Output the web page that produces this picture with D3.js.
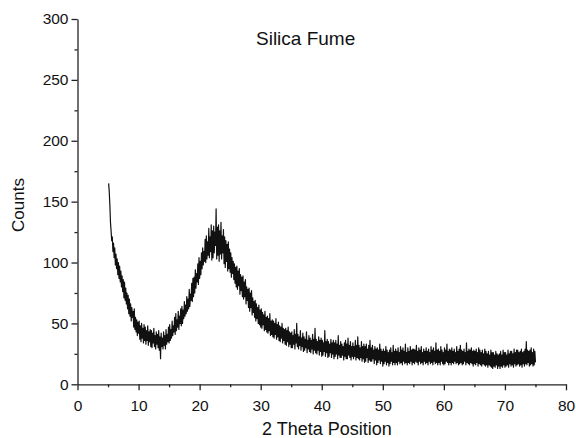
<!DOCTYPE html>
<html>
<head>
<meta charset="utf-8">
<script src="https://cdn.jsdelivr.net/npm/d3@7"></script>
<style>
  html, body { margin: 0; padding: 0; background: #fff; }
  text { font-family: "Liberation Sans", Arial, sans-serif; fill: #111; }
</style>
</head>
<body>
<div id="chart"></div>
<script>
// --- Data ---
// XRD scan, 0.1 deg steps. Each row holds the counts at d+0.1 ... d+1.0
const lowAngleStart = 5;
const countsLowAngle = [
  [165, 158, 147, 133, 126, 118, 121, 109, 116, 104],
  [112, 98, 107, 95, 103, 90, 100, 87, 97, 84],
  [93, 80, 89, 76, 86, 71, 84, 69, 79, 66],
  [75, 62, 73, 58, 70, 56, 66, 52, 63, 55],
  [60, 47, 62, 45, 55, 43, 53, 40, 51, 42],
  [52, 37, 48, 35, 50, 38, 46, 34, 49, 36],
  [47, 33, 44, 36, 48, 32, 43, 35, 45, 31],
  [44, 30, 42, 34, 46, 31, 40, 29, 43, 33],
  [41, 30, 44, 28, 39, 21, 42, 31, 38, 29],
  [43, 32, 40, 29, 45, 33, 41, 35, 47, 34]
];

const humpStart = 15;
const countsHump = [
  [49, 36, 45, 38, 52, 40, 48, 43, 55, 41],
  [58, 44, 53, 47, 60, 45, 56, 50, 62, 48],
  [64, 50, 61, 54, 68, 56, 65, 58, 72, 60],
  [70, 62, 78, 64, 74, 69, 83, 68, 87, 72],
  [88, 75, 94, 79, 91, 84, 99, 82, 104, 87],
  [101, 90, 108, 95, 112, 98, 109, 101, 119, 100],
  [122, 103, 117, 106, 128, 104, 121, 109, 131, 102],
  [126, 104, 130, 108, 125, 114, 144, 103, 129, 106],
  [131, 101, 126, 107, 133, 103, 122, 108, 127, 99],
  [121, 96, 118, 101, 115, 93, 117, 95, 111, 92],
  [108, 88, 104, 91, 101, 86, 99, 83, 96, 80],
  [97, 78, 93, 81, 95, 74, 90, 77, 88, 72],
  [89, 70, 84, 72, 86, 66, 80, 69, 78, 63],
  [79, 60, 75, 63, 77, 57, 71, 59, 68, 55],
  [69, 52, 66, 54, 63, 50, 65, 49, 61, 47],
  [62, 46, 59, 49, 57, 44, 60, 45, 55, 43],
  [56, 42, 54, 44, 58, 40, 52, 41, 53, 39],
  [52, 38, 50, 41, 54, 37, 49, 39, 51, 36],
  [48, 35, 47, 38, 50, 34, 46, 36, 45, 33],
  [46, 32, 44, 35, 47, 31, 43, 33, 42, 30]
];

const tailStart = 35;
const countsTail = [
  [43, 30, 40, 33, 45, 29, 41, 34, 50, 31],
  [41, 29, 39, 32, 44, 28, 38, 31, 42, 27],
  [39, 28, 37, 30, 43, 26, 36, 29, 40, 27],
  [38, 26, 36, 29, 41, 25, 37, 28, 46, 26],
  [37, 25, 35, 28, 39, 24, 36, 27, 38, 23],
  [36, 24, 34, 27, 44, 23, 35, 26, 37, 22],
  [35, 23, 33, 26, 37, 22, 34, 25, 36, 21],
  [34, 23, 36, 25, 33, 21, 40, 24, 32, 22],
  [35, 22, 33, 24, 31, 20, 34, 23, 36, 21],
  [33, 21, 38, 24, 32, 22, 35, 20, 31, 23],
  [34, 21, 31, 23, 36, 20, 32, 22, 39, 21],
  [32, 20, 30, 22, 35, 19, 31, 21, 33, 18],
  [31, 19, 33, 22, 29, 18, 32, 20, 36, 19],
  [30, 19, 32, 21, 28, 17, 31, 20, 29, 16],
  [30, 18, 28, 20, 33, 17, 29, 19, 27, 15],
  [29, 17, 27, 19, 31, 16, 28, 18, 26, 15],
  [28, 17, 30, 19, 26, 16, 32, 18, 27, 16],
  [29, 18, 27, 16, 30, 19, 26, 17, 31, 18],
  [28, 16, 30, 19, 27, 17, 33, 18, 26, 16],
  [30, 18, 27, 17, 31, 19, 28, 16, 29, 18]
];

const highAngleStart = 55;
const countsHighAngle = [
  [29, 17, 28, 19, 32, 18, 27, 16, 30, 19],
  [28, 17, 31, 18, 26, 16, 29, 19, 27, 17],
  [30, 18, 27, 16, 29, 19, 26, 17, 31, 18],
  [28, 16, 30, 19, 27, 17, 34, 18, 28, 16],
  [29, 18, 27, 16, 31, 19, 28, 17, 26, 16],
  [30, 17, 28, 19, 33, 18, 27, 16, 29, 18],
  [28, 16, 30, 18, 27, 17, 29, 19, 26, 17],
  [31, 18, 27, 16, 29, 17, 32, 18, 28, 16],
  [27, 17, 29, 19, 26, 16, 34, 18, 27, 17],
  [29, 16, 28, 18, 30, 17, 27, 15, 28, 17],
  [27, 16, 29, 18, 26, 15, 30, 17, 28, 16],
  [26, 15, 28, 17, 25, 16, 29, 15, 27, 16],
  [25, 14, 27, 16, 24, 15, 28, 14, 26, 13],
  [26, 15, 24, 14, 27, 16, 25, 13, 24, 15],
  [25, 13, 27, 15, 24, 14, 28, 16, 26, 14],
  [26, 15, 24, 16, 28, 14, 25, 17, 27, 15],
  [27, 16, 25, 14, 29, 17, 26, 15, 28, 16],
  [28, 17, 26, 15, 27, 16, 29, 14, 26, 17],
  [27, 15, 29, 17, 35, 16, 28, 18, 27, 15],
  [28, 16, 30, 17, 26, 15, 29, 16, 27, 18]
];

const xTicks = [0, 10, 20, 30, 40, 50, 60, 70, 80];
const yTicks = [0, 50, 100, 150, 200, 250, 300];
const xMinorTicks = [5, 15, 25, 35, 45, 55, 65, 75];
const yMinorTicks = [25, 75, 125, 175, 225, 275];

// --- Flatten rows into (2theta, counts) points ---
function unpack(rows, start) {
  const pts = [];
  rows.forEach((row, r) => {
    row.forEach((c, k) => {
      pts.push({ x: +(start + r + (k + 1) * 0.1).toFixed(1), y: c });
    });
  });
  return pts;
}
const scan = [].concat(
  unpack(countsLowAngle, lowAngleStart),
  unpack(countsHump, humpStart),
  unpack(countsTail, tailStart),
  unpack(countsHighAngle, highAngleStart)
);

// --- Layout ---
const width = 576, height = 438;

const svg = d3.select("#chart").append("svg")
  .attr("width", width)
  .attr("height", height);

const x = d3.scaleLinear().domain([0, 80]).range([77.5, 566]);
const y = d3.scaleLinear().domain([0, 300]).range([384.3, 19]);

// --- Axes ---
const axisColor = "#222";

svg.append("g")
  .attr("transform", `translate(0,${y(0)})`)
  .call(d3.axisBottom(x).tickValues(xTicks).tickSize(6).tickSizeOuter(0).tickPadding(10));
svg.append("g")
  .attr("transform", `translate(0,${y(0)})`)
  .call(d3.axisBottom(x).tickValues(xMinorTicks).tickSize(3).tickFormat(""))
  .select(".domain").remove();

svg.append("g")
  .attr("transform", `translate(${x(0)},0)`)
  .call(d3.axisLeft(y).tickValues(yTicks).tickSize(6).tickSizeOuter(0).tickPadding(3));
svg.append("g")
  .attr("transform", `translate(${x(0)},0)`)
  .call(d3.axisLeft(y).tickValues(yMinorTicks).tickSize(3).tickFormat(""))
  .select(".domain").remove();

svg.selectAll(".domain, .tick line").attr("stroke", axisColor).attr("stroke-width", 1.3);
svg.selectAll(".tick text")
  .attr("font-size", "15.5px")
  .attr("font-family", "'Liberation Sans', Arial, sans-serif")
  .attr("fill", "#111");

// --- Pattern line ---
const line = d3.line().x((d) => x(d.x)).y((d) => y(d.y));
svg.append("path")
  .datum(scan)
  .attr("fill", "none")
  .attr("stroke", "#111")
  .attr("stroke-width", 1.2)
  .attr("stroke-linejoin", "round")
  .attr("d", line);

// --- Labels ---
svg.append("text")
  .attr("x", 256)
  .attr("y", 45)
  .attr("font-size", "19px")
  .text("Silica Fume");

svg.append("text")
  .attr("transform", `translate(23.5,205) rotate(-90)`)
  .attr("text-anchor", "middle")
  .attr("font-size", "17px")
  .text("Counts");

svg.append("text")
  .attr("x", 262)
  .attr("y", 435)
  .attr("font-size", "18px")
  .text("2 Theta Position");
</script>
</body>
</html>
